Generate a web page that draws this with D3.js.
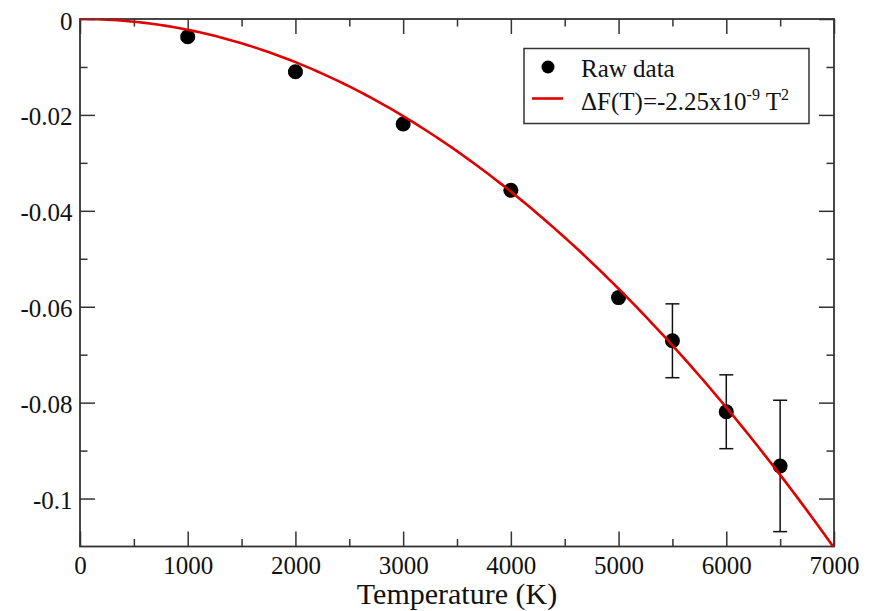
<!DOCTYPE html>
<html>
<head>
<meta charset="utf-8">
<script src="https://cdn.jsdelivr.net/npm/d3@7"></script>
<style>
  html, body { margin: 0; padding: 0; background: #fff; }
  svg { display: block; }
  text { font-family: "Liberation Serif", "Times New Roman", serif; fill: #111; }
</style>
</head>
<body>
<svg id="chart" width="876" height="611"></svg>
<script>
// ---- data ----
const temperatures = [1000, 2000, 3000, 4000, 5000, 5500, 6000, 6500];
const deltaF      = [-0.0037, -0.0110, -0.0219, -0.0357, -0.0581, -0.0671, -0.0819, -0.0932];
const errors      = [0.0004, 0.0003, 0.0003, 0.0003, 0.0002, 0.0077, 0.0077, 0.0137];
const fitCoef = -2.25e-9;               // fitted ΔF(T) = a T^2 shown in legend
const fitT = d3.range(0, 7001, 50);      // sample temperatures for the fit curve
const xMajorTicks = [0, 1000, 2000, 3000, 4000, 5000, 6000, 7000];
const xMinorTicks = [500, 1500, 2500, 3500, 4500, 5500, 6500];
const yMajorTicks = [0, -0.02, -0.04, -0.06, -0.08, -0.1];
const yMinorTicks = [-0.01, -0.03, -0.05, -0.07, -0.09];
const yTickLabels = ["0", "-0.02", "-0.04", "-0.06", "-0.08", "-0.1"];
const xTitle = "Temperature (K)";
const legendRaw = "Raw data";

// ---- layout ----
const FONT = '"Liberation Serif", "Times New Roman", serif';
const L = 80, R = 834, T = 19, B = 546.5;
const svg = d3.select("#chart");
const x = d3.scaleLinear().domain([0, 7000]).range([L, R]);
const y = d3.scaleLinear().domain([0, -0.11]).range([T, B]);
const axisColor = "#333";

svg.append("defs").append("clipPath").attr("id", "plotclip")
  .append("rect").attr("x", L).attr("y", T).attr("width", R - L).attr("height", B - T);

// axes (inward ticks on all sides)
function styleAxis(g) {
  g.attr("font-family", FONT);
  g.select(".domain").remove();
  g.selectAll(".tick line").attr("stroke", axisColor).attr("stroke-width", 1.5);
  g.selectAll(".tick text").style("font-family", FONT).style("font-size", "25px").attr("fill", "#111");
}
const MAJ = 15, MIN = 7.5;

// bottom
svg.append("g").attr("transform", `translate(0,${B})`)
  .call(d3.axisBottom(x).tickValues(xMajorTicks).tickFormat(d3.format("d")).tickSizeInner(-MAJ).tickSizeOuter(0).tickPadding(8))
  .call(styleAxis)
  .call(g => g.selectAll(".tick text").attr("dy", "0").attr("y", 27.5));
svg.append("g").attr("transform", `translate(0,${B})`)
  .call(d3.axisBottom(x).tickValues(xMinorTicks).tickFormat("").tickSizeInner(-MIN).tickSizeOuter(0))
  .call(styleAxis);
// top
svg.append("g").attr("transform", `translate(0,${T})`)
  .call(d3.axisTop(x).tickValues(xMajorTicks).tickFormat("").tickSizeInner(-MAJ).tickSizeOuter(0))
  .call(styleAxis);
svg.append("g").attr("transform", `translate(0,${T})`)
  .call(d3.axisTop(x).tickValues(xMinorTicks).tickFormat("").tickSizeInner(-MIN).tickSizeOuter(0))
  .call(styleAxis);
// left
svg.append("g").attr("transform", `translate(${L},0)`)
  .call(d3.axisLeft(y).tickValues(yMajorTicks).tickFormat((d, i) => yTickLabels[i]).tickSizeInner(-MAJ).tickSizeOuter(0))
  .call(styleAxis)
  .call(g => g.selectAll(".tick text").attr("x", -7.5).attr("dy", "0.4em"));
svg.append("g").attr("transform", `translate(${L},0)`)
  .call(d3.axisLeft(y).tickValues(yMinorTicks).tickFormat("").tickSizeInner(-MIN).tickSizeOuter(0))
  .call(styleAxis);
// right
svg.append("g").attr("transform", `translate(${R},0)`)
  .call(d3.axisRight(y).tickValues(yMajorTicks).tickFormat("").tickSizeInner(-MAJ).tickSizeOuter(0))
  .call(styleAxis);
svg.append("g").attr("transform", `translate(${R},0)`)
  .call(d3.axisRight(y).tickValues(yMinorTicks).tickFormat("").tickSizeInner(-MIN).tickSizeOuter(0))
  .call(styleAxis);

// frame
svg.append("rect").attr("x", L).attr("y", T).attr("width", R - L).attr("height", B - T)
  .attr("fill", "none").attr("stroke", axisColor).attr("stroke-width", 1.8);

// x title
svg.append("text").attr("x", (L + R) / 2).attr("y", 604).attr("text-anchor", "middle")
  .style("font-family", FONT).style("font-size", "30px").text(xTitle);

// error bars
const pts = temperatures.map((t, i) => ({ t, v: deltaF[i], e: errors[i] }));
const eb = svg.append("g").attr("stroke", "#111").attr("stroke-width", 1.5);
pts.forEach(p => {
  eb.append("line").attr("x1", x(p.t)).attr("x2", x(p.t)).attr("y1", y(p.v + p.e)).attr("y2", y(p.v - p.e));
  [p.v + p.e, p.v - p.e].forEach(v => {
    eb.append("line").attr("x1", x(p.t) - 7).attr("x2", x(p.t) + 7).attr("y1", y(v)).attr("y2", y(v));
  });
});

// markers
svg.append("g").selectAll("circle").data(pts).join("circle")
  .attr("cx", d => x(d.t)).attr("cy", d => y(d.v)).attr("r", 7.5).attr("fill", "#000");

// fit curve
const fitData = fitT.map(t => ({ t, v: fitCoef * t * t }));
svg.append("path").datum(fitData).attr("clip-path", "url(#plotclip)")
  .attr("fill", "none").attr("stroke", "#e00000").attr("stroke-width", 2.6)
  .attr("d", d3.line().x(d => x(d.t)).y(d => y(d.v)));

// legend
const lg = svg.append("g");
lg.append("rect").attr("x", 524).attr("y", 48.5).attr("width", 285).attr("height", 75)
  .attr("fill", "#fff").attr("stroke", axisColor).attr("stroke-width", 1.5);
lg.append("circle").attr("cx", 548).attr("cy", 67).attr("r", 6.5).attr("fill", "#000");
lg.append("text").attr("x", 581).attr("y", 76.5).style("font-family", FONT).style("font-size", "25px").text(legendRaw);
lg.append("line").attr("x1", 532).attr("x2", 563).attr("y1", 98.5).attr("y2", 98.5)
  .attr("stroke", "#e00000").attr("stroke-width", 2.6);
const t2 = lg.append("text").attr("x", 581).attr("y", 110).style("font-family", FONT).style("font-size", "25px");
t2.append("tspan").text("ΔF(T)=-2.25x10");
t2.append("tspan").attr("dy", -10).style("font-size", "16px").text("-9");
t2.append("tspan").attr("dy", 10).text(" T");
t2.append("tspan").attr("dy", -10).style("font-size", "16px").text("2");
</script>
</body>
</html>
